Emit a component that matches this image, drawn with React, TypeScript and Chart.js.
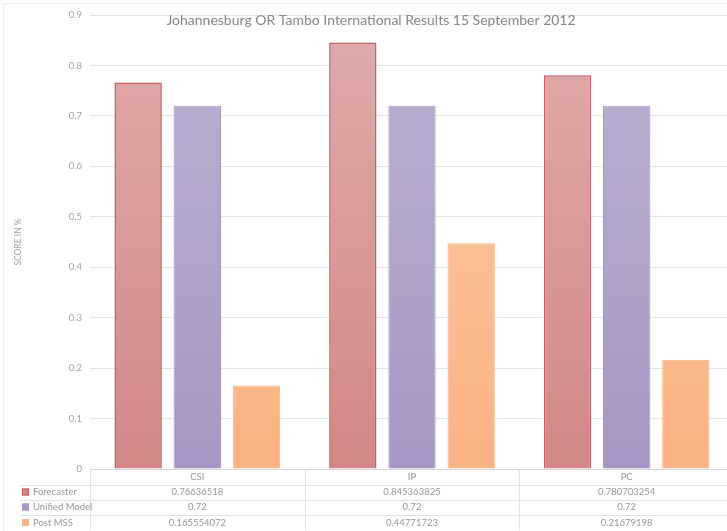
import React, { useEffect, useRef } from "react";
import { Chart, registerables } from "chart.js";

Chart.register(...registerables);

const chartTitle = "Johannesburg OR Tambo International Results 15 September 2012";
const yAxisTitle = "SCORE IN %";
const categories = ["CSI", "IP", "PC"];
const seriesNames = ["Forecaster", "Unified Model", "Post MSS"];
const forecaster = [0.76636518, 0.845363825, 0.780703254];
const unifiedModel = [0.72, 0.72, 0.72];
const postMss = [0.165554072, 0.44771723, 0.21679198];
const yMax = 0.9;
const yStep = 0.1;

// top colour, bottom colour, outline colour for each series
const palette = [
  { top: "#dfabab", bottom: "#d38789", edge: "#c45c60", edgeWidth: 1.6 },
  { top: "#bcb2d0", bottom: "#a896c4", edge: "#aa99c6", edgeWidth: 1 },
  { top: "#fdcaa6", bottom: "#fbb282", edge: "#f9b688", edgeWidth: 1 },
];

const FONT = "Lato, 'Open Sans', sans-serif";
const TEXT = "#959595";
const LINE = "#e3e3e3";

function gradientFor(chart: any, i: number) {
  const area = chart.chartArea;
  const p = palette[i];
  if (!area) return p.bottom;
  const g = chart.ctx.createLinearGradient(0, area.top, 0, area.bottom);
  g.addColorStop(0, p.top);
  g.addColorStop(1, p.bottom);
  return g;
}

// Draws the chart title, frame and the data table under the plot
const decorPlugin = {
  id: "decor",
  afterDraw(chart: any) {
    const { ctx, chartArea: area } = chart;
    const x = chart.scales.x;
    const series = [forecaster, unifiedModel, postMss];
    ctx.save();

    // frame
    ctx.strokeStyle = "#ececec";
    ctx.lineWidth = 1;
    ctx.strokeRect(3.5, 3.5, chart.width, chart.height);

    // title
    ctx.fillStyle = "#858585";
    ctx.font = `14px ${FONT}`;
    ctx.textAlign = "center";
    ctx.textBaseline = "middle";
    ctx.fillText(chartTitle, 371, 20);

    // table geometry
    const rows = [area.bottom, 484.5, 499.5, 514.5, 530.5];
    const catW = (area.right - area.left) / categories.length;
    const labelLeft = 20;

    ctx.strokeStyle = LINE;
    ctx.lineWidth = 1;
    ctx.beginPath();
    for (let r = 1; r < rows.length; r++) {
      ctx.moveTo(labelLeft, Math.round(rows[r]) + 0.5);
      ctx.lineTo(area.right, Math.round(rows[r]) + 0.5);
    }
    for (let c = 0; c <= categories.length; c++) {
      const vx = Math.round(area.left + c * catW) + 0.5;
      ctx.moveTo(vx, area.bottom);
      ctx.lineTo(vx, rows[rows.length - 1]);
    }
    ctx.stroke();

    // category labels row
    ctx.fillStyle = TEXT;
    ctx.font = `9.5px ${FONT}`;
    ctx.textAlign = "center";
    categories.forEach((c, i) => {
      ctx.fillText(c, x.getPixelForValue(i), (rows[0] + rows[1]) / 2);
    });

    // series rows
    series.forEach((vals, s) => {
      const cy = (rows[s + 1] + rows[s + 2]) / 2;
      const p = palette[s];
      ctx.fillStyle = p.bottom;
      ctx.fillRect(22, cy - 3.5, 7, 7);
      ctx.strokeStyle = p.edge;
      ctx.strokeRect(22.5, cy - 3, 6, 6);
      ctx.fillStyle = TEXT;
      ctx.textAlign = "left";
      ctx.fillText(seriesNames[s], 33, cy);
      ctx.textAlign = "center";
      vals.forEach((v, i) => {
        ctx.fillText(String(v), x.getPixelForValue(i), cy);
      });
    });
    ctx.restore();
  },
};

export default function App() {
  const ref = useRef<HTMLCanvasElement | null>(null);

  useEffect(() => {
    if (!ref.current) return;
    const data = [forecaster, unifiedModel, postMss];
    const chart = new Chart(ref.current, {
      type: "bar",
      data: {
        labels: categories,
        datasets: seriesNames.map((name, i) => ({
          label: name,
          data: data[i],
          backgroundColor: (c: any) => gradientFor(c.chart, i),
          borderColor: palette[i].edge,
          borderWidth: palette[i].edgeWidth,
          categoryPercentage: 0.827,
          barPercentage: 0.8,
        })),
      },
      options: {
        responsive: false,
        animation: false,
        devicePixelRatio: 1,
        layout: { padding: { left: 0, right: 11, top: 15, bottom: 62 } },
        plugins: {
          legend: { display: false },
          title: { display: false },
          tooltip: { enabled: false },
        },
        scales: {
          x: {
            ticks: { display: false },
            grid: { display: false, drawTicks: false },
            border: { display: true, color: "#d6d6d6" },
            afterFit: (s: any) => {
              s.height = 0;
            },
          },
          y: {
            min: 0,
            max: yMax,
            ticks: {
              stepSize: yStep,
              padding: 8,
              color: "#a3a3a3",
              font: { family: FONT, size: 9.5 },
              callback: (v: any) => (Number(v) === 0 ? "0" : Number(v).toFixed(1)),
            },
            grid: { color: LINE, drawTicks: false },
            border: { display: false },
            title: {
              display: true,
              text: yAxisTitle,
              color: "#9d9d9d",
              font: { family: FONT, size: 8.5 },
              padding: { top: 13, bottom: 0 },
            },
            afterFit: (s: any) => {
              s.width = 90;
            },
          },
        },
      },
      plugins: [decorPlugin],
    });
    return () => chart.destroy();
  }, []);

  return (
    <div
      style={{
        position: "fixed",
        left: 0,
        top: 0,
        width: 727,
        height: 531,
        overflow: "hidden",
        background: "#fff",
      }}
    >
      <canvas ref={ref} width={745} height={531} style={{ display: "block" }} />
    </div>
  );
}
